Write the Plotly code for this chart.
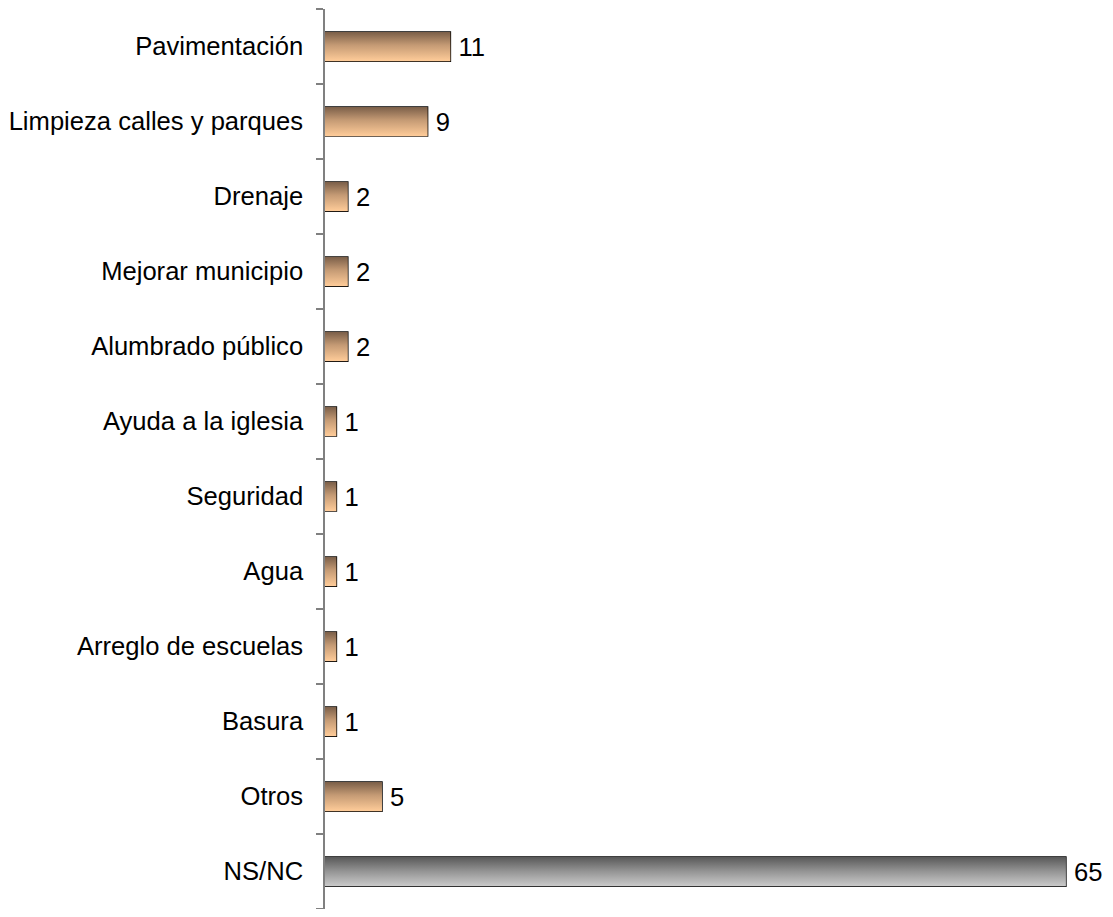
import plotly.graph_objects as go

categorias = ["Pavimentación", "Limpieza calles y parques", "Drenaje", "Mejorar municipio",
              "Alumbrado público", "Ayuda a la iglesia", "Seguridad", "Agua",
              "Arreglo de escuelas", "Basura", "Otros", "NS/NC"]
valores = [11, 9, 2, 2, 2, 1, 1, 1, 1, 1, 5, 65]

ancho = 0.39
marron = [[0, "#7a5e48"], [0.45, "#c49a74"], [1, "#ffcc99"]]
gris = [[0, "#585858"], [0.5, "#959595"], [1, "#cacaca"]]

pos = list(range(len(categorias)))
fig = go.Figure()

# relleno degradado de cada barra
for i, v in zip(pos, valores):
    y0, y1 = i - ancho / 2, i + ancho / 2
    fig.add_trace(go.Scatter(
        x=[0, v, v, 0, 0], y=[y0, y0, y1, y1, y0],
        mode="lines", fill="toself", line=dict(width=0),
        fillgradient=dict(type="vertical", start=y0, stop=y1,
                          colorscale=gris if categorias[i] == "NS/NC" else marron),
        hoverinfo="skip", showlegend=False))

fig.add_trace(go.Bar(
    x=valores, y=pos, orientation="h", width=ancho,
    marker=dict(color="rgba(0,0,0,0)", line=dict(color="black", width=1.5)),
    text=["\u2009" + str(v) for v in valores], textposition="outside",
    constraintext="none",
    textfont=dict(family="Liberation Sans, Arial", size=25.6, color="black"),
    cliponaxis=False, showlegend=False))

fig.update_layout(
    width=1105, height=901,
    margin=dict(l=317, r=30, t=1, b=0, autoexpand=False),
    paper_bgcolor="white", plot_bgcolor="white",
    font=dict(family="Liberation Sans, Arial", size=25.6, color="black"),
    xaxis=dict(visible=False, range=[0, 66.5], automargin=False),
    yaxis=dict(range=[11.5, -0.5], tickvals=pos, ticktext=categorias,
               automargin=False,
               showgrid=False, zeroline=False, showline=True,
               linecolor="#808080", linewidth=1.5,
               ticks="outside", ticklen=6, tickcolor="rgba(0,0,0,0)",
               ticklabelstandoff=9,
               minor=dict(ticks="outside", tick0=0.5, dtick=1, ticklen=7,
                          tickcolor="#808080", tickwidth=1.5, showgrid=False)),
)

fig.write_html("out.html")
